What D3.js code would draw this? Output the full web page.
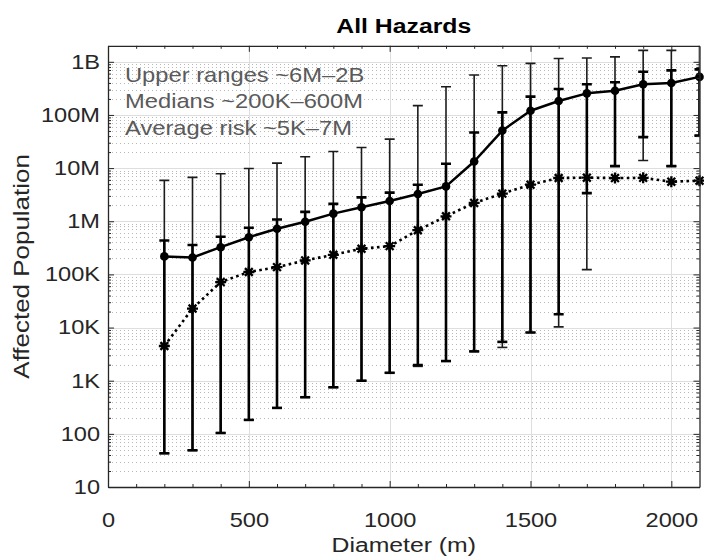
<!DOCTYPE html>
<html>
<head>
<meta charset="utf-8">
<script src="https://cdn.jsdelivr.net/npm/d3@7"></script>
<style>
  body { margin: 0; background: #fff; }
  svg { display: block; }
  text { font-family: "Liberation Sans", Arial, Helvetica, sans-serif; }
</style>
</head>
<body>
<svg id="chart" width="704" height="556"></svg>
<script>
// Impactor diameter (m)
const diameters = [200, 300, 400, 500, 600, 700, 800, 900, 1000, 1100,
                   1200, 1300, 1400, 1500, 1600, 1700, 1800, 1900, 2000, 2100];

// Median affected population (solid line, filled circles)
const medianPop = [218e3, 208e3, 325e3, 501e3, 723e3, 978e3, 1.39e6, 1.83e6, 2.41e6, 3.26e6,
                   4.53e6, 13.3e6, 50.8e6, 120e6, 183e6, 255e6, 286e6, 377e6, 399e6, 520e6];

// Average risk (dotted line, asterisks)
const averageRisk = [4.5e3, 22.8e3, 71.8e3, 111e3, 137e3, 183e3, 234e3, 304e3, 340e3, 678e3,
                     1.24e6, 2.21e6, 3.31e6, 4.87e6, 6.51e6, 6.6e6, 6.5e6, 6.55e6, 5.55e6, 5.8e6];

// Full range of outcomes (thin error bars)
const rangeUpper = [5.87e6, 6.68e6, 7.84e6, 9.86e6, 12.4e6, 16.3e6, 20.5e6, 24.4e6, 35.1e6, 150e6,
                    340e6, 563e6, 842e6, 933e6, 1.15e9, 1.18e9, 1.24e9, 1.64e9, 1.64e9, 2.2e9];
const rangeLower = [43, 49, 104, 183, 308, 488, 751, 1000, 1410, 1860,
                    2340, 3560, 4230, 8070, 10.3e3, 123e3, 10.9e6, 13.9e6, 10.9e6, 40.9e6];

// Spread around the median (heavy error bars)
const medianUpper = [435e3, 358e3, 510e3, 755e3, 1.08e6, 1.50e6, 2.12e6, 2.81e6, 3.45e6, 4.87e6,
                     12.1e6, 46.7e6, 112e6, 221e6, 307e6, 377e6, 411e6, 649e6, 690e6, 719e6];
const medianLower = [43, 49, 104, 183, 308, 488, 751, 1000, 1410, 1970,
                     2340, 3560, 5380, 8070, 17.8e3, 3.38e6, 10.9e6, 38.2e6, 10.9e6, 40.9e6];

// Axis ticks
const xTickValues = [0, 500, 1000, 1500, 2000];
const yTickValues = [10, 100, 1e3, 1e4, 1e5, 1e6, 1e7, 1e8, 1e9];
const yTickLabels = ["10", "100", "1K", "10K", "100K", "1M", "10M", "100M", "1B"];

const notes = ["Upper ranges ~6M\u20132B", "Medians ~200K\u2013600M", "Average risk ~5K\u20137M"];
const titleText = "All Hazards";
const xLabel = "Diameter (m)";
const yLabel = "Affected Population";

// ---------------------------------------------------------------
const plot = { left: 108, right: 699.5, top: 45.8, bottom: 487 };
const ink = "#262626";
const widen = 1.18;   // horizontal glyph stretch used for all labels

const svg = d3.select("#chart");

const x = d3.scaleLinear().domain([0, 2100]).range([plot.left, plot.right]);
const y = d3.scaleLog().domain([10, 2e9]).range([plot.bottom, plot.top]);

const xMinor = [];
for (let v = 100; v < 2100; v += 100) if (!xTickValues.includes(v)) xMinor.push(v);
const yMinor = [];
for (let dec = 10; dec < 1e9; dec *= 10) for (let k = 2; k <= 9; k++) yMinor.push(k * dec);

const crisp = v => Math.round(v) + 0.5;

// clip region for the data marks
svg.append("defs").append("clipPath").attr("id", "plotClip")
  .append("rect")
  .attr("x", plot.left).attr("y", plot.top)
  .attr("width", plot.right - plot.left).attr("height", plot.bottom - plot.top);

// --- grid ---
const grid = svg.append("g");
grid.selectAll("line.yminor").data(yMinor).join("line")
  .attr("class", "yminor")
  .attr("x1", plot.left).attr("x2", plot.right)
  .attr("y1", d => crisp(y(d))).attr("y2", d => crisp(y(d)))
  .attr("stroke", "#b8b8b8").attr("stroke-width", 1).attr("stroke-dasharray", "1,3");
grid.selectAll("line.ymajor").data(yTickValues.slice(1)).join("line")
  .attr("class", "ymajor")
  .attr("x1", plot.left).attr("x2", plot.right)
  .attr("y1", d => crisp(y(d))).attr("y2", d => crisp(y(d)))
  .attr("stroke", "#dedede").attr("stroke-width", 1);
grid.selectAll("line.xmajor").data(xTickValues.slice(1)).join("line")
  .attr("class", "xmajor")
  .attr("y1", plot.top).attr("y2", plot.bottom)
  .attr("x1", d => crisp(x(d))).attr("x2", d => crisp(x(d)))
  .attr("stroke", "#dedede").attr("stroke-width", 1);

// --- error bars ---
const rows = diameters.map((d, i) => ({
  d, med: medianPop[i], avg: averageRisk[i],
  hi: rangeUpper[i], lo: rangeLower[i],
  mhi: medianUpper[i], mlo: medianLower[i]
}));

const bars = svg.append("g").attr("clip-path", "url(#plotClip)");
function drawBars(cls, hiKey, loKey, width, color) {
  const g = bars.selectAll("g." + cls).data(rows).join("g").attr("class", cls);
  g.append("line")
    .attr("x1", r => x(r.d)).attr("x2", r => x(r.d))
    .attr("y1", r => y(r[hiKey])).attr("y2", r => y(r[loKey]))
    .attr("stroke", color).attr("stroke-width", width);
  [hiKey, loKey].forEach(k => {
    g.append("line")
      .attr("x1", r => x(r.d) - 5).attr("x2", r => x(r.d) + 5)
      .attr("y1", r => y(r[k])).attr("y2", r => y(r[k]))
      .attr("stroke", color).attr("stroke-width", width);
  });
}
drawBars("range", "hi", "lo", 1.6, "#1c1c1c");
drawBars("spread", "mhi", "mlo", 2.6, "#000");

// --- series lines ---
const lines = svg.append("g").attr("clip-path", "url(#plotClip)");
lines.append("path")
  .datum(rows)
  .attr("fill", "none").attr("stroke", "#000").attr("stroke-width", 2.6)
  .attr("stroke-dasharray", "2.6,3.4")
  .attr("d", d3.line().x(r => x(r.d)).y(r => y(r.avg)));
lines.append("path")
  .datum(rows)
  .attr("fill", "none").attr("stroke", "#000").attr("stroke-width", 2.5)
  .attr("stroke-linejoin", "round")
  .attr("d", d3.line().x(r => x(r.d)).y(r => y(r.med)));

// --- markers ---
const starPath = "M-5.5,0H5.5M0,-5.5V5.5M-3.9,-3.9L3.9,3.9M-3.9,3.9L3.9,-3.9";
svg.append("g").selectAll("path").data(rows).join("path")
  .attr("transform", r => `translate(${x(r.d)},${y(r.avg)})`)
  .attr("d", starPath)
  .attr("fill", "none").attr("stroke", "#000").attr("stroke-width", 2.3);
svg.append("g").selectAll("circle").data(rows).join("circle")
  .attr("cx", r => x(r.d)).attr("cy", r => y(r.med)).attr("r", 4.3)
  .attr("fill", "#000");

// --- axes (box with inward ticks) ---
function styleAxis(g) {
  g.selectAll("path.domain").attr("stroke", ink).attr("stroke-width", 1.3);
  g.selectAll(".tick line").attr("stroke", ink).attr("stroke-width", 1);
  g.attr("font-family", null).attr("font-size", null);
}
const labelSize = 20;

const bottomAxis = svg.append("g")
  .attr("transform", `translate(0,${plot.bottom})`)
  .call(d3.axisBottom(x).tickValues(xTickValues).tickSize(-6).tickSizeOuter(0).tickPadding(26)
        .tickFormat(d3.format("d")));
styleAxis(bottomAxis);
bottomAxis.selectAll(".tick text")
  .attr("fill", ink).style("font-size", labelSize + "px")
  .attr("transform", `scale(${widen},1)`);

svg.append("g")
  .attr("transform", `translate(0,${plot.bottom})`)
  .call(d3.axisBottom(x).tickValues(xMinor).tickSize(-3).tickFormat(""))
  .call(g => g.select(".domain").remove())
  .call(styleAxis);

const topAxis = svg.append("g")
  .attr("transform", `translate(0,${plot.top})`)
  .call(d3.axisTop(x).tickValues(xTickValues).tickSize(-6).tickSizeOuter(0).tickFormat(""));
styleAxis(topAxis);
svg.append("g")
  .attr("transform", `translate(0,${plot.top})`)
  .call(d3.axisTop(x).tickValues(xMinor).tickSize(-3).tickFormat(""))
  .call(g => g.select(".domain").remove())
  .call(styleAxis);

const leftAxis = svg.append("g")
  .attr("transform", `translate(${plot.left},0)`)
  .call(d3.axisLeft(y).tickValues(yTickValues).tickSize(-6).tickSizeOuter(0)
        .tickPadding(8 / widen)
        .tickFormat((d, i) => yTickLabels[i]));
styleAxis(leftAxis);
leftAxis.selectAll(".tick text")
  .attr("fill", ink).style("font-size", labelSize + "px")
  .attr("transform", `scale(${widen},1)`);
svg.append("g")
  .attr("transform", `translate(${plot.left},0)`)
  .call(d3.axisLeft(y).tickValues(yMinor).tickSize(-3).tickFormat(""))
  .call(g => g.select(".domain").remove())
  .call(styleAxis);

const rightAxis = svg.append("g")
  .attr("transform", `translate(${plot.right},0)`)
  .call(d3.axisRight(y).tickValues(yTickValues).tickSize(-6).tickSizeOuter(0).tickFormat(""));
styleAxis(rightAxis);
svg.append("g")
  .attr("transform", `translate(${plot.right},0)`)
  .call(d3.axisRight(y).tickValues(yMinor).tickSize(-3).tickFormat(""))
  .call(g => g.select(".domain").remove())
  .call(styleAxis);

// --- titles ---
const cx = (plot.left + plot.right) / 2;
svg.append("text")
  .attr("transform", `translate(${cx},33) scale(${widen},1)`)
  .attr("text-anchor", "middle")
  .attr("font-weight", "bold").attr("font-size", 21).attr("fill", "#000")
  .text(titleText);

svg.append("text")
  .attr("transform", `translate(${cx},552) scale(${widen},1)`)
  .attr("text-anchor", "middle")
  .attr("font-size", 21).attr("fill", ink)
  .text(xLabel);

svg.append("text")
  .attr("transform", `translate(29,${(plot.top + plot.bottom) / 2}) rotate(-90) scale(${widen},1)`)
  .attr("text-anchor", "middle")
  .attr("font-size", 22).attr("fill", ink)
  .text(yLabel);

// --- annotation ---
svg.append("g").selectAll("text").data(notes).join("text")
  .attr("transform", (t, i) => `translate(125,${81.7 + i * 26.7}) scale(1.13,1)`)
  .attr("font-size", 21).attr("fill", "#5a5a5a")
  .text(t => t);
</script>
</body>
</html>
